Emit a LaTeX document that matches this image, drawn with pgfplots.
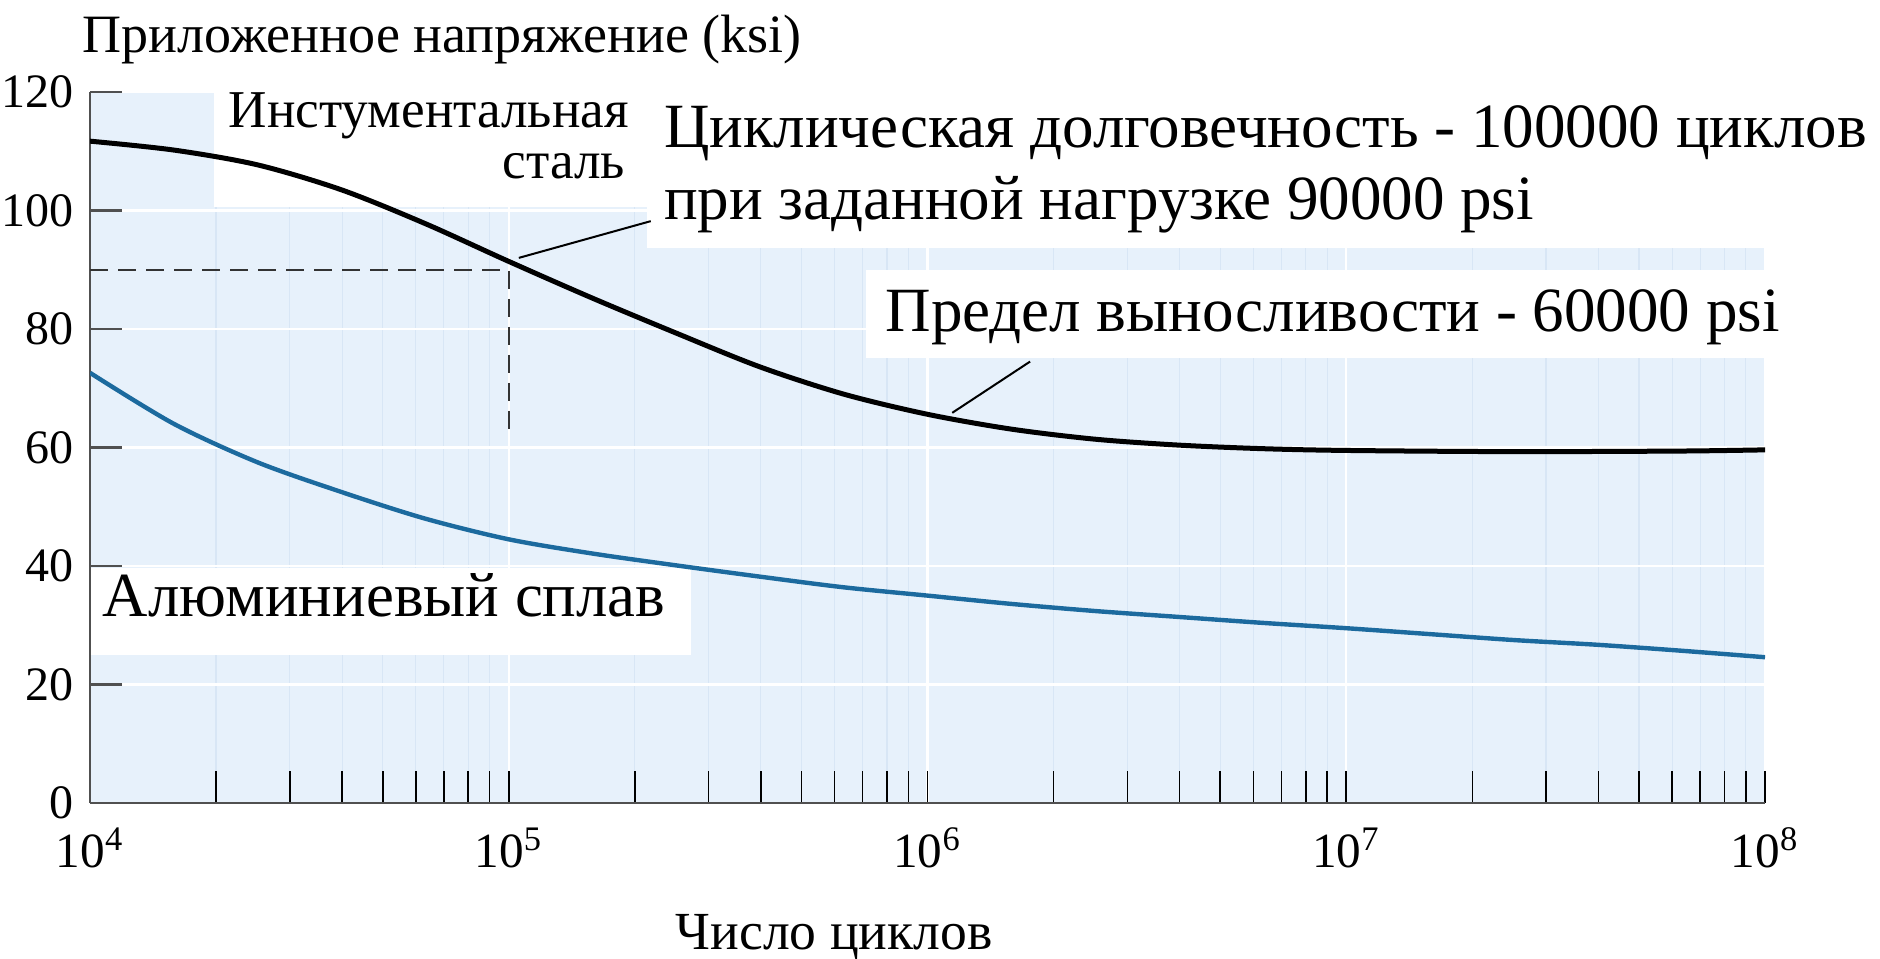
\documentclass[border=0pt]{standalone}
\usepackage{fontspec}
\setmainfont{Liberation Serif}
\usepackage{pgfplots}
\pgfplotsset{compat=1.18}
\definecolor{bgblue}{RGB}{231,241,251}
\definecolor{gridblue}{RGB}{216,230,245}
\definecolor{alublue}{RGB}{28,106,158}
\definecolor{axisgray}{RGB}{80,80,80}
\begin{document}
\begin{tikzpicture}
\useasboundingbox (-22.5pt,-39pt) rectangle (447.5pt,200.75pt);
\begin{axis}[
  at={(0pt,0pt)}, anchor=south west,
  scale only axis, width=418.75pt, height=177.75pt,
  xmode=log, xmin=1e4, xmax=1e8, ymin=0, ymax=120,
  axis lines*=left,
  axis line style={draw=axisgray, line width=0.7pt, -},
  axis background/.style={fill=bgblue},
  xtick={1e4,1e5,1e6,1e7,1e8},
  xticklabels={10\textsuperscript{4},10\textsuperscript{5},10\textsuperscript{6},10\textsuperscript{7},10\textsuperscript{8}},
  minor xtick={2e4,3e4,4e4,5e4,6e4,7e4,8e4,9e4,2e5,3e5,4e5,5e5,6e5,7e5,8e5,9e5,2e6,3e6,4e6,5e6,6e6,7e6,8e6,9e6,2e7,3e7,4e7,5e7,6e7,7e7,8e7,9e7},
  ytick={0,20,...,120},
  yticklabels={0,20,40,60,80,100,120},
  tick align=inside,
  major tick length=8pt, minor tick length=8pt,
  xtick style={black, line width=0.4pt},
  minor tick style={black, line width=0.4pt},
  ytick style={draw=axisgray, line width=0.6pt},
  grid=both,
  major grid style={white, line width=0.6pt},
  minor grid style={gridblue, line width=0.3pt},
  xticklabel style={font=\fontsize{12.3}{14}\selectfont, anchor=base, yshift=-16.25pt},
  yticklabel style={font=\fontsize{12}{14}\selectfont, xshift=-0.5pt},
]
% white label boxes
\fill[white] (axis cs:19770,100.6) rectangle (axis cs:213800,120);
\fill[white] (axis cs:213800,93.7) rectangle (axis cs:1e8,120);
\fill[white] (axis cs:712900,75.1) rectangle (axis cs:1e8,90.0);
\fill[white] (axis cs:10080,25.0) rectangle (axis cs:272300,39.7);
% dashed guide
\addplot[mark=none, draw=black!80, line width=0.5pt, dash pattern=on 4.5pt off 2.5pt] coordinates {(1e4,90) (1e5,90) (1e5,63)};
% leaders
\addplot[mark=none, black, line width=0.5pt] coordinates {(105670,92.0) (218300,98.2)};
\addplot[mark=none, black, line width=0.5pt] coordinates {(1145513,65.85) (1757924,74.5)};
% tool steel
\addplot[mark=none, black, line width=1.25pt, smooth] coordinates {
(10000,111.7) (15849,110.2) (25119,107.7) (39811,103.5) (63096,97.8)
(100000,91.4) (158489,85.2) (251189,79.3) (398107,73.6) (630957,69.0)
(1000000,65.6) (1584893,63.1) (2511886,61.4) (3981072,60.4) (6309573,59.8)
(10000000,59.5) (25118864,59.3) (63095734,59.4) (100000000,59.6)};
% aluminium alloy
\addplot[mark=none, alublue, line width=1.1pt, smooth] coordinates {
(10000,72.6) (15849,64.0) (25119,57.5) (39811,52.5) (63096,48.0)
(100000,44.5) (158489,42.1) (251189,40.1) (398107,38.2) (630957,36.4)
(1000000,35.0) (1584893,33.6) (2511886,32.4) (3981072,31.4) (6309573,30.4)
(10000000,29.5) (15848932,28.5) (25118864,27.5) (39810717,26.7) (63095734,25.7)
(100000000,24.6)};
\end{axis}
\node[font=\fontsize{13.5}{16}\selectfont, anchor=base west, inner sep=0] at (-2pt,187.5pt) {Приложенное напряжение (ksi)};
\node[font=\fontsize{13.3}{16}\selectfont, anchor=base east, inner sep=0] at (134.9pt,168.75pt) {Инстументальная};
\node[font=\fontsize{13.3}{16}\selectfont, anchor=base east, inner sep=0] at (134pt,156.1pt) {сталь};
\node[font=\fontsize{15.75}{19}\selectfont, anchor=base west, inner sep=0] at (143.3pt,163.75pt) {Циклическая долговечность - 100000 циклов};
\node[font=\fontsize{15.75}{19}\selectfont, anchor=base west, inner sep=0] at (143.3pt,145.75pt) {при заданной нагрузке 90000 psi};
\node[font=\fontsize{15.75}{19}\selectfont, anchor=base west, inner sep=0] at (198.7pt,117.75pt) {Предел выносливости - 60000 psi};
\node[font=\fontsize{15.7}{18}\selectfont, anchor=base west, inner sep=0] at (3pt,46.5pt) {Алюминиевый сплав};
\node[font=\fontsize{13.4}{16}\selectfont, anchor=base west, inner sep=0] at (146.25pt,-36.75pt) {Число циклов};
\end{tikzpicture}
\end{document}
